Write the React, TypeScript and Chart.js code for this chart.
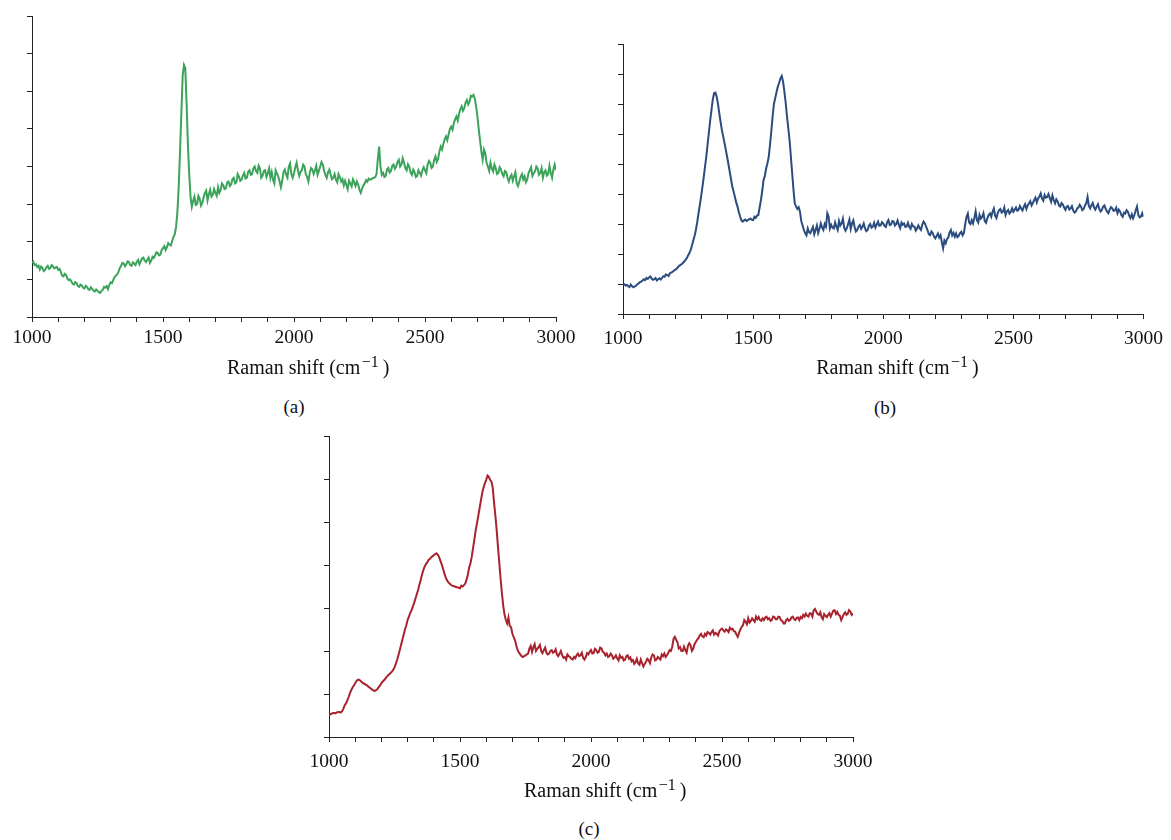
import React, { useEffect, useRef } from "react";
import { Chart, registerables } from "chart.js";

Chart.register(...registerables);

// Raman shift grid (cm^-1), 5 cm^-1 steps from 1000 to 3000
const WAVENUMBERS: number[] = Array.from({ length: 401 }, (_, i) => 1000 + i * 5);

const X_TICK_LABELS = [1000, 1500, 2000, 2500, 3000];

// Panel (a) intensity (arbitrary units, axis 0..8)
const SERIES_A: number[] = [
  1.44, 1.47, 1.38, 1.40, 1.33, 1.36, 1.26, 1.34, 1.30, 1.22,
  1.25, 1.32, 1.36, 1.28, 1.30, 1.38, 1.35, 1.29, 1.31, 1.33,
  1.25, 1.28, 1.20, 1.10, 1.08, 1.15, 1.12, 1.02, 0.98, 1.00,
  0.95, 0.88, 0.86, 0.93, 0.90, 0.82, 0.80, 0.86, 0.84, 0.78,
  0.76, 0.83, 0.80, 0.74, 0.72, 0.79, 0.75, 0.70, 0.68, 0.73,
  0.70, 0.66, 0.64, 0.69, 0.72, 0.80, 0.78, 0.82, 0.74, 0.85,
  0.92, 0.90, 0.98, 1.06, 1.10, 1.13, 1.20, 1.30, 1.36, 1.44,
  1.42, 1.35, 1.40, 1.48, 1.46, 1.38, 1.36, 1.45, 1.42, 1.38,
  1.47, 1.52, 1.40, 1.48, 1.56, 1.58, 1.50, 1.46, 1.52, 1.58,
  1.44, 1.50, 1.60, 1.57, 1.64, 1.72, 1.70, 1.64, 1.66, 1.78,
  1.83, 1.88, 1.78, 1.86, 1.96, 1.92, 1.90, 2.02, 2.13, 2.20,
  2.40, 2.80, 3.47, 4.40, 5.40, 6.40, 6.70, 6.62, 5.70, 4.60,
  3.80, 3.20, 2.93, 3.08, 3.20, 2.98, 3.00, 3.22, 3.15, 2.96,
  3.03, 3.18, 3.30, 3.36, 3.10, 3.26, 3.38, 3.20, 3.25, 3.40,
  3.30, 3.22, 3.45, 3.30, 3.38, 3.55, 3.50, 3.40, 3.42, 3.58,
  3.60, 3.48, 3.52, 3.66, 3.70, 3.55, 3.58, 3.80, 3.73, 3.62,
  3.65, 3.76, 3.83, 3.68, 3.70, 3.86, 3.90, 3.78, 3.80, 3.95,
  4.00, 3.88, 3.83, 4.02, 3.95, 3.70, 3.75, 3.88, 3.90, 3.72,
  3.82, 3.95, 3.70, 3.85, 3.65, 3.55, 3.90, 3.82, 3.73, 3.60,
  3.45, 3.62, 3.85, 3.92, 3.78, 3.70, 4.00, 4.08, 3.80, 3.70,
  3.83, 3.98, 4.10, 3.90, 3.75, 3.86, 3.90, 4.05, 4.00, 3.80,
  3.72, 3.60, 3.83, 3.96, 3.92, 3.80, 3.90, 4.02, 3.78, 3.88,
  4.00, 4.12, 4.05, 3.88, 3.78, 3.70, 3.85, 3.92, 3.78, 3.66,
  3.70, 3.80, 3.65, 3.58, 3.80, 3.72, 3.60, 3.66, 3.50, 3.62,
  3.51, 3.40, 3.62, 3.55, 3.47, 3.66, 3.58, 3.48, 3.60, 3.52,
  3.38, 3.30, 3.42, 3.50, 3.55, 3.64, 3.60, 3.68, 3.65, 3.66,
  3.69, 3.70, 3.72, 3.80, 4.20, 4.53, 4.00, 3.78, 3.83, 3.72,
  3.75, 3.92, 3.96, 3.84, 3.88, 4.02, 4.05, 3.94, 4.00, 4.12,
  4.18, 4.00, 4.05, 4.22, 4.10, 3.96, 3.90, 4.06, 4.00, 3.84,
  3.78, 3.92, 3.85, 3.72, 3.75, 3.90, 3.83, 3.76, 3.90, 3.98,
  3.90, 3.82, 4.05, 4.15, 4.10, 3.96, 4.00, 4.18, 4.27, 4.12,
  4.20, 4.40, 4.53, 4.45, 4.60, 4.72, 4.80, 4.70, 4.85, 5.00,
  5.06, 4.98, 5.15, 5.25, 5.33, 5.22, 5.40, 5.52, 5.60, 5.48,
  5.55, 5.70, 5.77, 5.65, 5.72, 5.88, 5.86, 5.90, 5.81, 5.60,
  5.33, 5.00, 4.71, 4.40, 4.18, 4.45, 4.35, 4.10, 4.00, 3.88,
  4.10, 3.95, 3.87, 4.05, 3.95, 3.80, 3.83, 3.98, 3.92, 3.80,
  3.74, 3.88, 3.85, 3.70, 3.60, 3.72, 3.78, 3.62, 3.74, 3.85,
  3.55, 3.48, 3.60, 3.72, 3.80, 3.66, 3.74, 3.58, 3.65, 3.82,
  3.90, 3.98, 3.75, 3.82, 3.87, 4.00, 3.95, 3.78, 3.83, 3.96,
  3.70, 3.85, 3.90, 3.76, 3.80, 4.02, 3.83, 3.70, 3.92, 4.05,
  3.90,
];

// Panel (b) intensity (arbitrary units, axis 0..9)
const SERIES_B: number[] = [
  0.97, 0.99, 0.95, 0.97, 0.93, 0.90, 0.98, 0.92, 0.89, 0.92,
  0.94, 0.99, 1.02, 1.06, 1.08, 1.12, 1.16, 1.13, 1.20, 1.17,
  1.22, 1.25, 1.18, 1.14, 1.16, 1.20, 1.12, 1.16, 1.19, 1.15,
  1.20, 1.26, 1.24, 1.32, 1.30, 1.27, 1.36, 1.38, 1.40, 1.44,
  1.47, 1.50, 1.55, 1.60, 1.63, 1.66, 1.70, 1.75, 1.80, 1.86,
  1.95, 2.03, 2.13, 2.28, 2.45, 2.60, 2.80, 3.05, 3.35, 3.62,
  3.91, 4.22, 4.55, 4.90, 5.24, 5.65, 6.05, 6.45, 6.80, 7.15,
  7.36, 7.38, 7.24, 7.00, 6.69, 6.40, 6.13, 5.92, 5.70, 5.47,
  5.24, 5.00, 4.75, 4.50, 4.24, 4.08, 3.90, 3.72, 3.58, 3.40,
  3.25, 3.12, 3.08, 3.12, 3.15, 3.10, 3.13, 3.16, 3.18, 3.14,
  3.13, 3.24, 3.20, 3.28, 3.30, 3.55, 3.80, 4.10, 4.47, 4.60,
  4.85, 5.02, 5.24, 5.65, 6.10, 6.60, 7.00, 7.20, 7.40, 7.58,
  7.71, 7.85, 7.93, 7.75, 7.42, 7.05, 6.60, 6.20, 5.80, 5.25,
  4.70, 4.15, 3.69, 3.58, 3.50, 3.56, 3.41, 3.10, 2.95, 2.80,
  2.69, 2.62, 2.85, 2.72, 2.69, 2.80, 2.90, 2.66, 2.80, 2.95,
  2.70, 2.84, 3.02, 2.88, 2.80, 3.00, 2.91, 3.36, 3.25, 2.85,
  2.97, 2.88, 2.85, 3.05, 2.91, 2.80, 3.10, 2.95, 3.02, 3.18,
  2.88, 2.78, 2.86, 3.00, 3.15, 2.84, 3.02, 3.12, 2.90, 2.75,
  2.80, 2.92, 2.97, 2.84, 2.91, 3.02, 2.85, 2.76, 2.80, 2.94,
  3.00, 2.88, 2.91, 3.04, 2.88, 2.98, 3.08, 2.94, 2.95, 3.06,
  3.02, 2.94, 2.90, 3.06, 3.13, 2.96, 2.98, 3.10, 3.08, 2.95,
  3.00, 3.12, 2.97, 2.86, 3.05, 2.98, 3.02, 2.90, 2.92, 3.04,
  2.91, 2.84, 3.00, 2.92, 2.91, 2.78, 2.85, 2.95, 2.86, 2.80,
  2.98, 3.08, 3.02, 2.90, 2.80, 2.66, 2.63, 2.75, 2.70, 2.58,
  2.52, 2.60, 2.68, 2.55, 2.63, 2.40, 2.19, 2.45, 2.36, 2.50,
  2.55, 2.72, 2.80, 2.62, 2.70, 2.58, 2.69, 2.56, 2.60, 2.70,
  2.74, 2.62, 2.70, 3.00, 3.24, 3.35, 3.05, 3.00, 3.13, 3.02,
  3.20, 3.42, 3.13, 3.05, 3.30, 3.18, 3.24, 3.36, 3.10, 3.04,
  3.19, 3.30, 3.35, 3.24, 3.41, 3.52, 3.28, 3.20, 3.36, 3.46,
  3.50, 3.38, 3.41, 3.55, 3.30, 3.42, 3.47, 3.35, 3.40, 3.52,
  3.41, 3.48, 3.55, 3.44, 3.47, 3.60, 3.52, 3.45, 3.58, 3.66,
  3.50, 3.62, 3.69, 3.76, 3.62, 3.70, 3.80, 3.88, 3.72, 3.85,
  3.91, 4.02, 3.85, 3.78, 3.97, 3.88, 3.90, 4.00, 3.86, 3.74,
  3.95, 3.80, 3.69, 3.82, 3.75, 3.62, 3.58, 3.70, 3.65, 3.55,
  3.47, 3.58, 3.60, 3.48, 3.52, 3.60, 3.45, 3.38, 3.41, 3.52,
  3.55, 3.64, 3.58, 3.46, 3.50, 3.62, 3.69, 3.90, 3.60, 3.52,
  3.63, 3.70, 3.55, 3.48, 3.58, 3.66, 3.50, 3.42, 3.47, 3.58,
  3.62, 3.50, 3.41, 3.36, 3.48, 3.56, 3.52, 3.44, 3.45, 3.54,
  3.36, 3.48, 3.42, 3.30, 3.24, 3.38, 3.35, 3.46, 3.41, 3.28,
  3.20, 3.32, 3.19, 3.30, 3.45, 3.58, 3.30, 3.22, 3.25, 3.36,
  3.24,
];

// Panel (c) intensity (arbitrary units, axis 0..7)
const SERIES_C: number[] = [
  0.51, 0.53, 0.54, 0.56, 0.56, 0.55, 0.57, 0.58, 0.58, 0.57,
  0.60, 0.66, 0.74, 0.78, 0.85, 0.93, 1.02, 1.09, 1.15, 1.20,
  1.25, 1.30, 1.33, 1.33, 1.31, 1.28, 1.25, 1.24, 1.22, 1.20,
  1.17, 1.15, 1.12, 1.10, 1.08, 1.07, 1.09, 1.12, 1.16, 1.20,
  1.25, 1.29, 1.32, 1.36, 1.40, 1.43, 1.46, 1.49, 1.52, 1.56,
  1.62, 1.70, 1.79, 1.90, 2.02, 2.14, 2.26, 2.38, 2.50, 2.60,
  2.72, 2.80, 2.88, 2.95, 3.03, 3.12, 3.22, 3.32, 3.42, 3.54,
  3.65, 3.78, 3.88, 3.96, 4.02, 4.06, 4.12, 4.14, 4.18, 4.20,
  4.23, 4.25, 4.27, 4.24, 4.19, 4.10, 4.02, 3.92, 3.81, 3.72,
  3.65, 3.60, 3.57, 3.54, 3.52, 3.51, 3.50, 3.49, 3.48, 3.47,
  3.46, 3.52, 3.50, 3.53, 3.57, 3.66, 3.78, 3.94, 4.04, 4.20,
  4.40, 4.60, 4.81, 4.98, 5.15, 5.33, 5.51, 5.68, 5.80, 5.90,
  5.98, 6.08, 6.05, 5.98, 5.94, 5.80, 5.45, 5.15, 4.81, 4.42,
  4.05, 3.68, 3.34, 3.05, 2.85, 2.72, 2.64, 2.78, 2.58, 2.55,
  2.40, 2.32, 2.25, 2.12, 2.02, 1.96, 1.92, 1.88, 1.86, 1.88,
  1.90, 1.92, 1.94, 2.06, 2.12, 1.98, 2.09, 2.16, 2.00, 2.05,
  2.09, 2.14, 2.00, 1.95, 2.02, 2.08, 1.96, 1.92, 1.94, 2.00,
  2.02, 1.96, 1.98, 2.04, 1.92, 1.88, 1.94, 2.00, 1.90, 1.84,
  1.86, 1.80, 1.92, 1.88, 1.86, 1.82, 1.80, 1.86, 1.83, 1.90,
  1.94, 1.88, 1.90, 1.96, 1.84, 1.80, 1.86, 1.95, 1.92, 1.98,
  2.02, 1.94, 1.95, 2.05, 2.02, 1.96, 1.98, 2.08, 2.06, 1.98,
  1.96, 1.90, 1.94, 1.86, 1.88, 1.94, 1.90, 1.82, 1.85, 1.90,
  1.83, 1.78, 1.90, 1.84, 1.86, 1.78, 1.80, 1.88, 1.90, 1.82,
  1.85, 1.76, 1.79, 1.70, 1.74, 1.82, 1.71, 1.68, 1.80, 1.72,
  1.64, 1.70, 1.75, 1.82, 1.79, 1.72, 1.85, 1.92, 1.90, 1.78,
  1.80, 1.86, 1.83, 1.80, 1.92, 1.88, 1.94, 1.86, 1.90, 1.96,
  2.02, 2.00, 2.10, 2.28, 2.33, 2.26, 2.20, 2.06, 2.09, 2.00,
  2.00, 2.10, 2.02, 1.96, 2.12, 2.18, 2.13, 2.00, 2.05, 2.16,
  2.21, 2.26, 2.30, 2.36, 2.40, 2.34, 2.32, 2.40, 2.36, 2.44,
  2.42, 2.38, 2.44, 2.48, 2.38, 2.42, 2.40, 2.36, 2.46, 2.50,
  2.52, 2.48, 2.45, 2.50, 2.48, 2.44, 2.54, 2.50, 2.52, 2.46,
  2.45, 2.38, 2.33, 2.42, 2.50, 2.56, 2.60, 2.72, 2.68, 2.62,
  2.76, 2.66, 2.70, 2.76, 2.72, 2.68, 2.80, 2.74, 2.79, 2.72,
  2.70, 2.76, 2.72, 2.78, 2.80, 2.74, 2.76, 2.70, 2.72, 2.80,
  2.79, 2.74, 2.74, 2.80, 2.79, 2.72, 2.70, 2.64, 2.64, 2.72,
  2.75, 2.70, 2.72, 2.78, 2.80, 2.74, 2.72, 2.77, 2.78, 2.72,
  2.79, 2.76, 2.84, 2.80, 2.87, 2.82, 2.80, 2.88, 2.87, 2.80,
  2.95, 2.98, 2.91, 2.86, 2.84, 2.90, 2.79, 2.74, 2.86, 2.82,
  2.79, 2.84, 2.88, 2.80, 2.87, 2.94, 2.95, 2.86, 2.91, 2.84,
  2.82, 2.72, 2.79, 2.86, 2.90, 2.84, 2.87, 2.95, 2.92, 2.84,
  2.87,
];

const X_TITLE_MAIN = "Raman shift (cm";
const X_TITLE_SUP = "\u22121";
const X_TITLE_END = ")";
const FONT_FAMILY = "'Liberation Serif', 'DejaVu Serif', serif";
const AXIS_COLOR = "#222222";
const TEXT_COLOR = "#111111";

// Axis title with a true superscript, drawn under the x axis
const supTitlePlugin = {
  id: "supTitle",
  afterDraw(chart: any, _args: any, opts: any) {
    const { ctx, chartArea } = chart;
    const cx = (chartArea.left + chartArea.right) / 2;
    const baseY = chartArea.bottom + opts.baseline;
    const mainFont = `20px ${FONT_FAMILY}`;
    const supFont = `16px ${FONT_FAMILY}`;
    ctx.save();
    ctx.fillStyle = TEXT_COLOR;
    ctx.textBaseline = "alphabetic";
    ctx.textAlign = "left";
    let x = cx + opts.startOffset;
    ctx.font = mainFont;
    ctx.fillText(X_TITLE_MAIN, x, baseY);
    x += ctx.measureText(X_TITLE_MAIN).width + 1.5;
    ctx.font = supFont;
    ctx.fillText(X_TITLE_SUP, x, baseY - 7);
    x += ctx.measureText(X_TITLE_SUP).width + 4;
    ctx.font = mainFont;
    ctx.fillText(X_TITLE_END, x, baseY);
    ctx.restore();
  },
};

type PanelProps = {
  values: number[];
  color: string;
  yMax: number;
  left: number;
  top: number;
  width: number;
  height: number;
  padLeft: number;
  padRight: number;
  padTop: number;
  tickPad: number;
  titleBaseline: number;
};

function Panel(p: PanelProps) {
  const ref = useRef<HTMLCanvasElement | null>(null);
  useEffect(() => {
    if (!ref.current) return;
    const font = { family: FONT_FAMILY, size: 19.5, lineHeight: 1.2 };
    const chart = new Chart(ref.current, {
      type: "line",
      data: {
        datasets: [
          {
            data: WAVENUMBERS.map((x, i) => ({ x, y: p.values[i] })),
            borderColor: p.color,
            borderWidth: 2,
            pointRadius: 0,
            tension: 0,
            fill: false,
          },
        ],
      },
      plugins: [supTitlePlugin],
      options: {
        animation: false,
        responsive: false,
        maintainAspectRatio: false,
        events: [],
        layout: {
          padding: { left: p.padLeft, right: p.padRight, top: p.padTop, bottom: 0 },
        },
        plugins: {
          legend: { display: false },
          tooltip: { enabled: false },
          supTitle: { baseline: p.titleBaseline, startOffset: -67 },
        } as any,
        scales: {
          x: {
            type: "linear",
            min: 1000,
            max: 3000,
            ticks: {
              stepSize: 100,
              autoSkip: false,
              maxTicksLimit: 100,
              maxRotation: 0,
              minRotation: 0,
              padding: p.tickPad,
              color: TEXT_COLOR,
              font,
              callback: (v: any) => (X_TICK_LABELS.includes(Number(v)) ? String(v) : ""),
            },
            grid: {
              drawOnChartArea: false,
              drawTicks: true,
              tickLength: 5,
              color: AXIS_COLOR,
              lineWidth: 1,
            },
            border: { display: true, color: AXIS_COLOR, width: 1 },
            title: { display: false },
            afterFit: (s: any) => {
              s.height = 70;
            },
          },
          y: {
            type: "linear",
            min: 0,
            max: p.yMax,
            ticks: { display: false, stepSize: 1 },
            grid: {
              drawOnChartArea: false,
              drawTicks: true,
              tickLength: 5,
              color: AXIS_COLOR,
              lineWidth: 1,
            },
            border: { display: true, color: AXIS_COLOR, width: 1 },
            afterFit: (s: any) => {
              s.width = 5;
            },
          },
        },
      },
    });
    return () => chart.destroy();
  }, []);
  return (
    <canvas
      ref={ref}
      width={p.width}
      height={p.height}
      style={{ position: "absolute", left: p.left, top: p.top, width: p.width, height: p.height }}
    />
  );
}

function SubLabel({ text, cx, cy }: { text: string; cx: number; cy: number }) {
  return (
    <div
      style={{
        position: "absolute",
        left: cx - 40,
        top: cy - 11,
        width: 80,
        height: 22,
        lineHeight: "22px",
        textAlign: "center",
        fontFamily: FONT_FAMILY,
        fontSize: 19,
        color: TEXT_COLOR,
      }}
    >
      {text}
    </div>
  );
}

export default function App() {
  return (
    <div
      style={{
        position: "absolute",
        left: 0,
        top: 0,
        width: 1171,
        height: 840,
        background: "#ffffff",
        overflow: "hidden",
      }}
    >
      <Panel
        values={SERIES_A}
        color="#3ca35b"
        yMax={8}
        left={0}
        top={0}
        width={590}
        height={387}
        padLeft={27}
        padRight={34}
        padTop={16}
        tickPad={4}
        titleBaseline={57}
      />
      <Panel
        values={SERIES_B}
        color="#2b4c7e"
        yMax={9}
        left={590}
        top={0}
        width={581}
        height={384}
        padLeft={28}
        padRight={24}
        padTop={44}
        tickPad={8}
        titleBaseline={60}
      />
      <Panel
        values={SERIES_C}
        color="#a8232e"
        yMax={7}
        left={297}
        top={420}
        width={590}
        height={387}
        padLeft={27}
        padRight={34}
        padTop={16}
        tickPad={8}
        titleBaseline={60}
      />
      <SubLabel text="(a)" cx={294} cy={407} />
      <SubLabel text="(b)" cx={885} cy={408} />
      <SubLabel text="(c)" cx={589} cy={829} />
    </div>
  );
}
